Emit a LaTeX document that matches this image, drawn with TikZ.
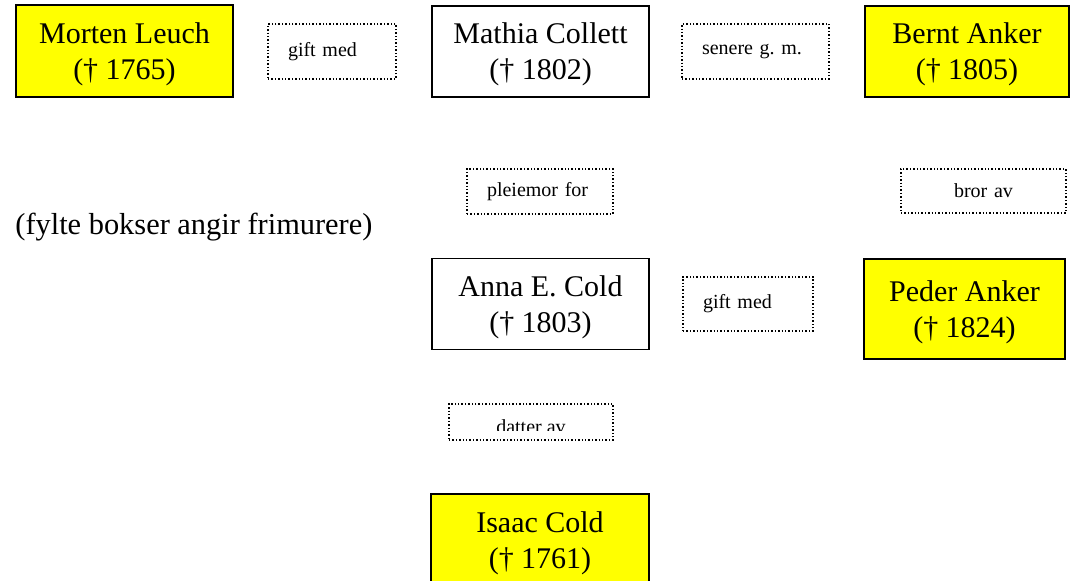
\documentclass[tikz,border=0pt]{standalone}
\usepackage{fontspec}
\setmainfont{Liberation Serif}
\frenchspacing

\definecolor{masonyellow}{RGB}{255,255,0}

\tikzset{
	person/.style={draw, line width=0.8pt, align=center, inner sep=0pt,
		font=\fontsize{15pt}{18pt}\selectfont},
	mason/.style={person, fill=masonyellow},
	relation/.style={draw, densely dotted, line width=0.7pt, inner sep=0pt,
		inner xsep=10pt, align=left, font=\fontsize{10pt}{12pt}\selectfont},
	notetext/.style={inner sep=0pt, font=\fontsize{15.2pt}{18pt}\selectfont}
}

%first line a bit taller, so the two lines sit lower in the box
\def\namestrut{\rule{0pt}{13.7pt}}

\begin{document}
\begin{tikzpicture}[x=0.5pt, y=-0.5pt]

	%page frame, the bottom box runs off the page
	\clip (0,0) rectangle (1072,581);

	%freemasons: filled boxes
	\foreach \id/\who/\died/\xpos/\ypos/\w/\h in {leuch/Morten Leuch/1765/124.5/51/108.5/46,
		bernt/Bernt Anker/1805/967/51.5/102/45.5,
		peder/Peder Anker/1824/964.5/309/100.5/50,
		isaac/Isaac Cold/1761/540/540/109/46}
   {
		\node [mason, minimum width=\w pt, minimum height=\h pt] (\id) at (\xpos,\ypos) {\namestrut\who\\(† \died)};
   }

	%the others: empty boxes
	\foreach \id/\who/\died/\xpos/\ypos in {mathia/Mathia Collett/1802/540.5/51.5,
		anna/Anna E. Cold/1803/540.5/304}
   {
		\node [person, minimum width=108.5pt, minimum height=45.5pt] (\id) at (\xpos,\ypos) {\namestrut\who\\(† \died)};
   }

	%relations, dotted boxes
	\node [relation, text width=44pt, minimum height=27.5pt] (gift1) at (332,51.5) {gift med};
	\node [relation, text width=53.5pt, minimum height=27.5pt] (senere) at (755.5,51.5) {senere g. m.};
	\node [relation, text width=53pt, minimum height=22.5pt] (pleie) at (540,191.5) {pleiemor for};
	\node [relation, text width=62.5pt, align=center, minimum height=22pt] (bror) at (983.5,191) {bror av};
	\node [relation, text width=45pt, minimum height=27pt] (gift2) at (748,304) {gift med};
	\node [relation, minimum width=82pt, minimum height=18pt] (datter) at (531,422) {};

	%text of the last one is cut off at the bottom
	\begin{scope}
		\clip (datter.north west) rectangle ([yshift=5pt]datter.south east);
		\node [relation, draw=none, anchor=base] (datterlabel) at (531,433.5) {datter av};
	\end{scope}

	%legend
	\node [notetext, anchor=base west] (legend) at (15,235) {(fylte bokser angir frimurere)};

\end{tikzpicture}
\end{document}
